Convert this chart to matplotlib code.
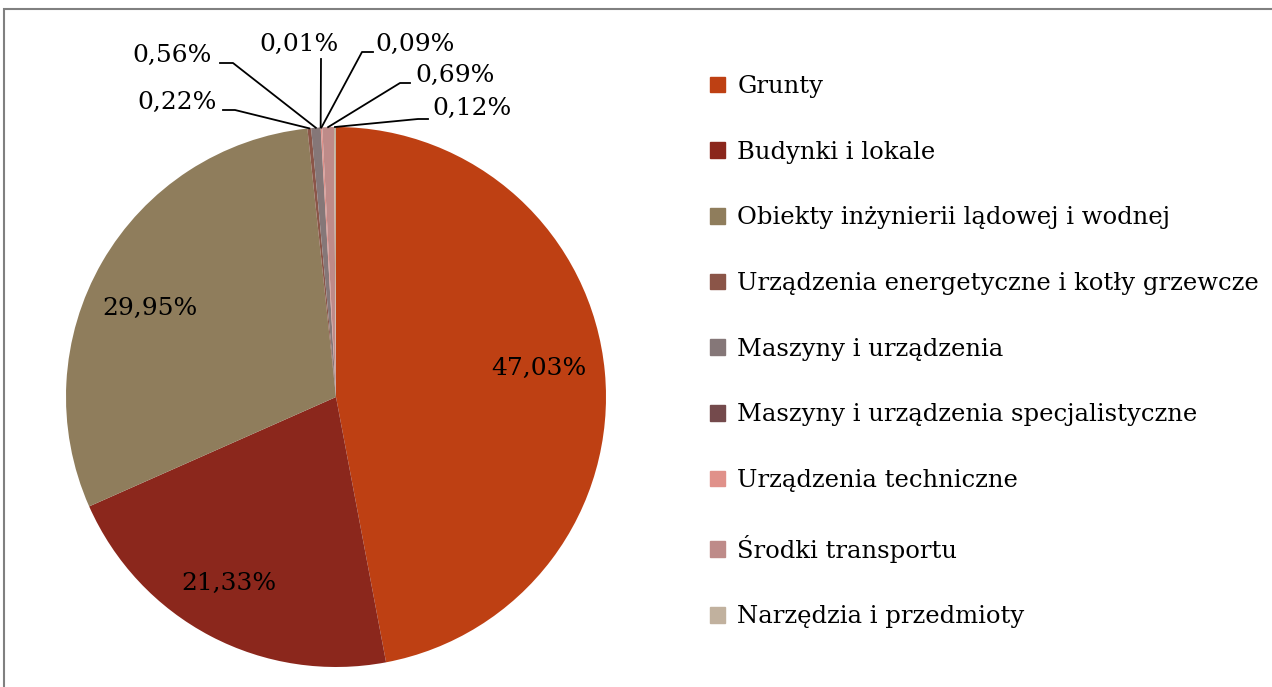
import matplotlib.pyplot as plt
import numpy as np
from matplotlib.patches import Rectangle

categories = [
    "Grunty",
    "Budynki i lokale",
    "Obiekty inżynierii lądowej i wodnej",
    "Urządzenia energetyczne i kotły grzewcze",
    "Maszyny i urządzenia",
    "Maszyny i urządzenia specjalistyczne",
    "Urządzenia techniczne",
    "Środki transportu",
    "Narzędzia i przedmioty",
]
shares = [47.03, 21.33, 29.95, 0.22, 0.56, 0.01, 0.09, 0.69, 0.12]
colors = ["#BE4013", "#8B271C", "#8F7D5C", "#8B5548", "#857778",
          "#744A4C", "#E0918A", "#BE8B89", "#C1B19E"]

# label placement (pixel layout, y measured from top)
inside_pos = {0: (539, 368), 1: (229, 583), 2: (150, 308)}
outside_pos = {3: (177, 102), 4: (172, 55), 5: (299, 44),
               6: (415, 44), 7: (455, 75), 8: (472, 108)}
# elbow of leader line and its end next to the label (pixel layout)
elbow = {3: (235, 110), 4: (233, 63), 5: (321, 59),
         6: (362, 52), 7: (400, 83), 8: (418, 119)}
label_start = {3: (223, 110), 4: (220, 63), 5: (321, 59),
               6: (373, 52), 7: (410, 83), 8: (428, 119)}

W, H = 1272, 687
plt.rcParams["font.family"] = ["DejaVu Serif"]

fig = plt.figure(figsize=(W / 100, H / 100), dpi=100)
ax = fig.add_axes([0, 0, 1, 1])

cx, cy, r = 336, H - 397, 270
wedges, _ = ax.pie(shares, colors=colors, startangle=90, counterclock=False,
                   center=(cx, cy), radius=r, frame=True,
                   wedgeprops=dict(linewidth=0))
ax.set_xlim(0, W)
ax.set_ylim(0, H)
ax.set_aspect("equal")
ax.axis("off")

def fmt(v):
    return f"{v:.2f}%".replace(".", ",")

for i, w in enumerate(wedges):
    if i in inside_pos:
        x, y = inside_pos[i]
        ax.text(x, H - y, fmt(shares[i]), ha="center", va="center", fontsize=18)
    else:
        mid = np.deg2rad((w.theta1 + w.theta2) / 2)
        px, py = cx + r * np.cos(mid), cy + r * np.sin(mid)
        ex, ey = elbow[i]
        sx, sy = label_start[i]
        ax.plot([px, ex, sx], [py, H - ey, H - sy], color="black", lw=1.3)
        x, y = outside_pos[i]
        ax.text(x, H - y, fmt(shares[i]), ha="center", va="center", fontsize=18)

handles = [Rectangle((0, 0), 1, 1, color=c) for c in colors]
ax.legend(handles, categories, loc="upper left", bbox_to_anchor=(710 / W, 1 - 75 / H),
          frameon=False, fontsize=17.5, handlelength=0.62, handleheight=0.62,
          handletextpad=0.5, labelspacing=1.755, borderaxespad=0, borderpad=0)

fig.add_artist(Rectangle((4 / W, -0.1), 1.2, 1 - 9 / H + 0.1, transform=fig.transFigure,
                         fill=False, edgecolor="#808080", lw=1.5))

fig.savefig("out.png", dpi=100)
